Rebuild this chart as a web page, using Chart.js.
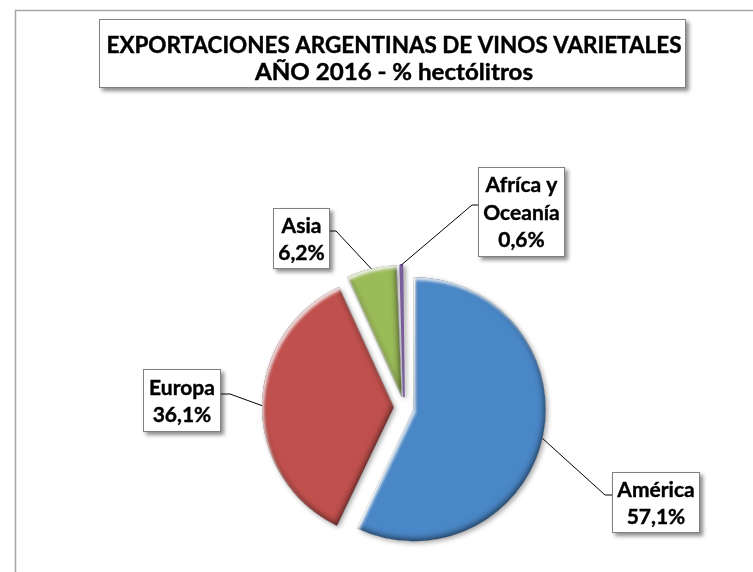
<!DOCTYPE html>
<html><head><meta charset="utf-8">
<script src="https://cdn.jsdelivr.net/npm/chart.js@4"></script>
<style>html,body{margin:0;padding:0;background:#fff;} canvas{display:block;}</style>
</head><body>
<canvas id="c" width="753" height="572"></canvas>
<script>
// ---- data ----
const categories = ['América', 'Europa', 'Asia', 'Afríca y\nOceanía'];
const shares = [57.1, 36.1, 6.2, 0.6];
const sliceColors = ['#4A87C7', '#C0504D', '#9BBB59', '#7A5E9C'];
const titleLines = ['EXPORTACIONES ARGENTINAS DE VINOS VARIETALES', 'AÑO 2016 - % hectólitros'];

// ---- layout (not data) ----
const RADIUS = 132;
const EXPLODE = 10;            // px each slice is pulled out
const FONT = 'Lato, Carlito, "Liberation Sans", sans-serif';
const labelBoxes = [
  { x: 612, y: 472, w: 88, h: 61, elbow: [605, 495], side: 'left' },
  { x: 143, y: 369, w: 78, h: 63, elbow: [230, 394], side: 'right' },
  { x: 273, y: 208, w: 57, h: 61, elbow: [336, 231], side: 'right' },
  { x: 478, y: 167, w: 87, h: 90, elbow: [472, 205], side: 'left' }
];
const titleBox = { x: 99, y: 19, w: 587, h: 69, cx: 394, lineY: [46, 73], lineW: [575, 278] };

function fmt(v) { return v.toFixed(1).replace('.', ',') + '%'; }

function slicePath(ctx, el) {
  const mid = (el.startAngle + el.endAngle) / 2;
  const cx = el.x + Math.cos(mid) * EXPLODE, cy = el.y + Math.sin(mid) * EXPLODE;
  ctx.moveTo(cx, cy);
  ctx.arc(cx, cy, RADIUS, el.startAngle, el.endAngle);
  ctx.closePath();
}

const decor = {
  id: 'decor',
  beforeDraw(chart) {
    const ctx = chart.ctx;
    ctx.save();
    // outer chart frame
    ctx.strokeStyle = '#A6A6A6';
    ctx.lineWidth = 1.5;
    ctx.beginPath();
    ctx.moveTo(15.5, 580); ctx.lineTo(15.5, 10.5); ctx.lineTo(760, 10.5);
    ctx.stroke();
    // title box
    ctx.shadowColor = 'rgba(0,0,0,0.45)';
    ctx.shadowBlur = 4; ctx.shadowOffsetX = 3; ctx.shadowOffsetY = 3;
    ctx.fillStyle = '#fff';
    ctx.fillRect(titleBox.x, titleBox.y, titleBox.w, titleBox.h);
    ctx.shadowColor = 'transparent';
    ctx.strokeStyle = '#808080'; ctx.lineWidth = 1;
    ctx.strokeRect(titleBox.x + 0.5, titleBox.y + 0.5, titleBox.w - 1, titleBox.h - 1);
    // title text (each line fitted to the original's width)
    ctx.font = 'bold 22px ' + FONT;
    ctx.fillStyle = '#000'; ctx.strokeStyle = '#000'; ctx.lineWidth = 0.4;
    ctx.textAlign = 'center'; ctx.textBaseline = 'middle';
    titleLines.forEach((t, k) => {
      const sx = titleBox.lineW[k] / ctx.measureText(t).width;
      ctx.save();
      ctx.translate(titleBox.cx, titleBox.lineY[k]); ctx.scale(sx, 1);
      ctx.fillText(t, 0, 0);
      ctx.strokeText(t, 0, 0);
      ctx.restore();
    });
    ctx.restore();
  },
  beforeDatasetsDraw(chart) {
    const arcs = chart.getDatasetMeta(0).data;
    arcs.forEach(el => {
      const circ = el.endAngle - el.startAngle;
      const fix = 1 - Math.sin(Math.min(Math.PI, circ));
      el.outerRadius = RADIUS - EXPLODE * fix;
    });
    const ctx = chart.ctx;
    ctx.save();
    ctx.shadowColor = 'rgba(0,0,0,0.35)';
    ctx.shadowBlur = 5; ctx.shadowOffsetX = 2; ctx.shadowOffsetY = 2;
  },
  afterDatasetsDraw(chart) {
    const ctx = chart.ctx;
    ctx.restore();
    const arcs = chart.getDatasetMeta(0).data;
    // bevel shading (skipped on very thin slices)
    arcs.forEach(el => {
      const arcLen = (el.endAngle - el.startAngle) * RADIUS;
      if (arcLen < 15) return;
      const k = Math.min(1, arcLen / 40);
      ctx.save();
      ctx.beginPath(); slicePath(ctx, el); ctx.clip();
      // dark rim
      ctx.beginPath(); ctx.rect(-2000, -2000, 5000, 5000); slicePath(ctx, el);
      ctx.shadowColor = 'rgba(0,0,0,' + (0.3 + 0.3 * k).toFixed(2) + ')';
      ctx.shadowBlur = 2 + 4 * k;
      ctx.shadowOffsetX = -1; ctx.shadowOffsetY = -2 * k;
      ctx.fillStyle = '#000'; ctx.fill('evenodd');
      // highlight
      ctx.beginPath(); ctx.rect(-2000, -2000, 5000, 5000); slicePath(ctx, el);
      ctx.shadowColor = 'rgba(255,255,255,' + (0.35 + 0.45 * k).toFixed(2) + ')';
      ctx.shadowBlur = 1 + 2 * k;
      ctx.shadowOffsetX = 1 + k; ctx.shadowOffsetY = 1 + 2 * k;
      ctx.fillStyle = '#fff'; ctx.fill('evenodd');
      ctx.restore();
    });
    // labels
    arcs.forEach((el, i) => {
      const b = labelBoxes[i];
      const mid = (el.startAngle + el.endAngle) / 2;
      const ax = el.x + Math.cos(mid) * (RADIUS + EXPLODE);
      const ay = el.y + Math.sin(mid) * (RADIUS + EXPLODE);
      const ex = b.side === 'left' ? b.x : b.x + b.w;
      ctx.save();
      ctx.strokeStyle = '#000'; ctx.lineWidth = 1;
      ctx.beginPath(); ctx.moveTo(ax, ay); ctx.lineTo(b.elbow[0], b.elbow[1]); ctx.lineTo(ex, b.elbow[1]); ctx.stroke();
      ctx.shadowColor = 'rgba(0,0,0,0.45)'; ctx.shadowBlur = 4;
      ctx.shadowOffsetX = 3; ctx.shadowOffsetY = 3;
      ctx.fillStyle = '#fff'; ctx.fillRect(b.x, b.y, b.w, b.h);
      ctx.shadowColor = 'transparent';
      ctx.strokeStyle = '#808080';
      ctx.strokeRect(b.x + 0.5, b.y + 0.5, b.w - 1, b.h - 1);
      const lines = chart.data.labels[i].split('\n').concat([fmt(chart.data.datasets[0].data[i])]);
      ctx.font = 'bold 21px ' + FONT;
      ctx.fillStyle = '#000'; ctx.strokeStyle = '#000'; ctx.lineWidth = 0.4;
      ctx.textAlign = 'center'; ctx.textBaseline = 'middle';
      const lh = 27.5;
      const cy0 = b.y + b.h / 2 + 1 - (lines.length - 1) * lh / 2;
      lines.forEach((t, k) => {
        ctx.fillText(t, b.x + b.w / 2, cy0 + k * lh);
        ctx.strokeText(t, b.x + b.w / 2, cy0 + k * lh);
      });
      ctx.restore();
    });
  }
};

new Chart(document.getElementById('c'), {
  type: 'pie',
  data: {
    labels: categories,
    datasets: [{
      data: shares,
      backgroundColor: sliceColors,
      borderColor: sliceColors,
      borderWidth: [0, 0, 0, 2],
      offset: EXPLODE * 4,
      hoverOffset: 0
    }]
  },
  options: {
    responsive: false,
    animation: false,
    radius: RADIUS,
    layout: { padding: { left: 55, right: 0, top: 242, bottom: 0 } },
    plugins: { legend: { display: false }, title: { display: false }, tooltip: { enabled: false } },
    events: []
  },
  plugins: [decor]
});
</script>
</body></html>
